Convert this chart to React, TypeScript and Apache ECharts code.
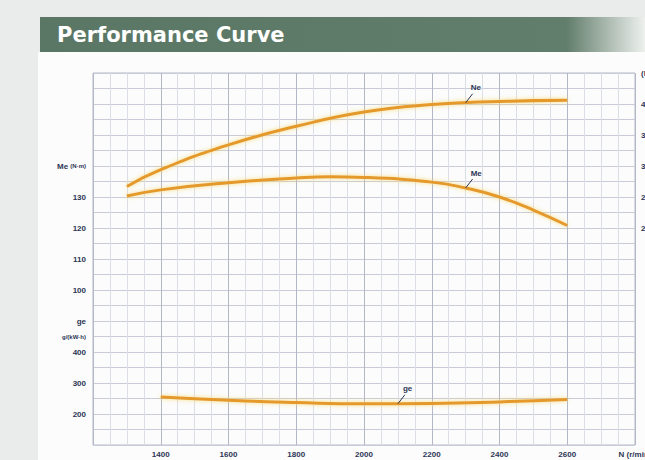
import React, { useEffect, useRef } from "react";
import * as echarts from "echarts";

// ---- data ----
const neRpm = [1300, 1400, 1600, 1800, 2000, 2200, 2400, 2600];
const neKw = [26.7, 29.4, 33.4, 36.4, 38.7, 39.9, 40.4, 40.6];

const meRpm = [1300, 1400, 1600, 1800, 1900, 2000, 2200, 2300, 2400, 2500, 2600];
const meNm = [130.3, 132.3, 134.6, 136.1, 136.5, 136.3, 134.8, 132.9, 130.0, 125.8, 120.8];

const geRpm = [1400, 1600, 1800, 2000, 2200, 2400, 2600];
const geGkwh = [255, 244, 237, 233, 234, 239, 247];

const xTickLabels = [1400, 1600, 1800, 2000, 2200, 2400, 2600];
const torqueTickLabels = [100, 110, 120, 130];
const geTickLabels = [200, 300, 400];
const powerTickLabels = [20, 25, 30, 35, 40];

// annotation anchors (data coordinates on each curve)
const neAnchor = [2300, 40.2];
const meAnchor = [2300, 132.9];
const geAnchor = [2100, 233];

const lineColor = "#e4992c";
const textColor = "#2d3556";

export default function App() {
  const ref = useRef<HTMLDivElement>(null);

  useEffect(() => {
    if (!ref.current) return;
    const chart = echarts.init(ref.current, null, { renderer: "svg" });

    const bg: any[] = [
      { type: "rect", z: -10, shape: { x: 38, y: 52, width: 607, height: 408 }, style: { fill: "#fbfcfb" } },
      {
        type: "rect",
        z: -9,
        shape: { x: 40, y: 17, width: 605, height: 35 },
        style: {
          fill: new echarts.graphic.LinearGradient(0, 0, 1, 0, [
            { offset: 0, color: "#5a7765" },
            { offset: 0.87, color: "#617d6b" },
            { offset: 1, color: "#eef1ee" },
          ]),
        },
      },
      {
        type: "text",
        z: -8,
        x: 57,
        y: 35,
        style: {
          text: "Performance Curve",
          fill: "#ffffff",
          font: "bold 21px 'DejaVu Sans'",
          verticalAlign: "middle",
        },
      },
    ];

    const lineStyle = {
      color: lineColor,
      width: 3,
      shadowColor: "rgba(250,215,110,0.9)",
      shadowBlur: 4,
    };

    const labelFont = { fontSize: 8, color: textColor, fontFamily: "Liberation Sans", fontWeight: "bold" as const };

    chart.setOption({
      animation: false,
      backgroundColor: "#e9ecea",
      grid: {
        left: 93,
        right: 10,
        top: 73,
        bottom: 15,
        show: true,
        borderColor: "#b7bbc9",
        borderWidth: 1,
        containLabel: false,
        outerBoundsMode: "none",
      },
      xAxis: {
        type: "value",
        min: 1200,
        max: 2800,
        interval: 200,
        axisLine: { show: false },
        axisTick: { show: false },
        minorTick: { show: false, splitNumber: 4 },
        splitLine: { show: true, lineStyle: { color: "#b3b7c6", width: 1 } },
        minorSplitLine: { show: true, lineStyle: { color: "#dcdee6", width: 1 } },
        axisLabel: {
          ...labelFont,
          margin: 5,
          formatter: (v: number) =>
            xTickLabels.indexOf(v) >= 0 ? String(v) : v === 2800 ? "N (r/min)" : "",
        },
      },
      yAxis: [
        {
          type: "value",
          position: "left",
          min: 50,
          max: 170,
          interval: 5,
          axisLine: { show: false },
          axisTick: { show: false },
          splitLine: { show: true, lineStyle: { color: "#c9ccd8", width: 1 } },
          axisLabel: {
            ...labelFont,
            margin: 7,
            formatter: (v: number) =>
              torqueTickLabels.indexOf(v) >= 0 ? String(v) : v === 140 ? "{a|Me} {b|(N·m)}" : "",
            rich: {
              a: { fontSize: 8, fontWeight: "bold", color: textColor, fontFamily: "Liberation Sans" },
              b: { fontSize: 6, color: textColor, fontFamily: "Liberation Sans" },
            },
          },
        },
        {
          type: "value",
          position: "left",
          min: 100,
          max: 1300,
          interval: 50,
          axisLine: { show: false },
          axisTick: { show: false },
          splitLine: { show: false },
          axisLabel: {
            ...labelFont,
            margin: 7,
            formatter: (v: number) =>
              geTickLabels.indexOf(v) >= 0
                ? String(v)
                : v === 500
                ? "{a|ge}"
                : v === 450
                ? "{b|g/(kW·h)}"
                : "",
            rich: {
              a: { fontSize: 8, fontWeight: "bold", color: textColor, fontFamily: "Liberation Sans" },
              b: { fontSize: 6, color: textColor, fontFamily: "Liberation Sans" },
            },
          },
        },
        {
          type: "value",
          position: "right",
          min: -15,
          max: 45,
          interval: 5,
          axisLine: { show: false },
          axisTick: { show: false },
          splitLine: { show: false },
          axisLabel: {
            ...labelFont,
            margin: 6,
            formatter: (v: number) =>
              powerTickLabels.indexOf(v) >= 0 ? String(v) : v === 45 ? "(kW)" : "",
          },
        },
      ],
      series: [
        {
          name: "Ne",
          type: "line",
          yAxisIndex: 2,
          smooth: true,
          symbol: "none",
          lineStyle,
          data: neRpm.map((r, i) => [r, neKw[i]]),
        },
        {
          name: "Me",
          type: "line",
          yAxisIndex: 0,
          smooth: true,
          symbol: "none",
          lineStyle,
          data: meRpm.map((r, i) => [r, meNm[i]]),
        },
        {
          name: "ge",
          type: "line",
          yAxisIndex: 1,
          smooth: true,
          symbol: "none",
          lineStyle,
          data: geRpm.map((r, i) => [r, geGkwh[i]]),
        },
      ],
      graphic: bg,
    });

    const anno: any[] = [];
    const addLabel = (name: string, yIdx: number, anchor: number[]) => {
      const p = chart.convertToPixel({ xAxisIndex: 0, yAxisIndex: yIdx }, anchor) as number[];
      if (!p) return;
      anno.push({
        type: "line",
        z: 10,
        shape: { x1: p[0], y1: p[1], x2: p[0] + 7, y2: p[1] - 9 },
        style: { stroke: textColor, lineWidth: 1 },
      });
      anno.push({
        type: "text",
        z: 10,
        x: p[0] + 5,
        y: p[1] - 15,
        style: { text: name, fill: textColor, font: "bold 8px 'Liberation Sans'", verticalAlign: "middle" },
      });
    };
    addLabel("Ne", 2, neAnchor);
    addLabel("Me", 0, meAnchor);
    addLabel("ge", 1, geAnchor);

    chart.setOption({ graphic: [...bg, ...anno] });

    return () => chart.dispose();
  }, []);

  return <div ref={ref} style={{ position: "fixed", left: 0, top: 0, width: 645, height: 460 }} />;
}
